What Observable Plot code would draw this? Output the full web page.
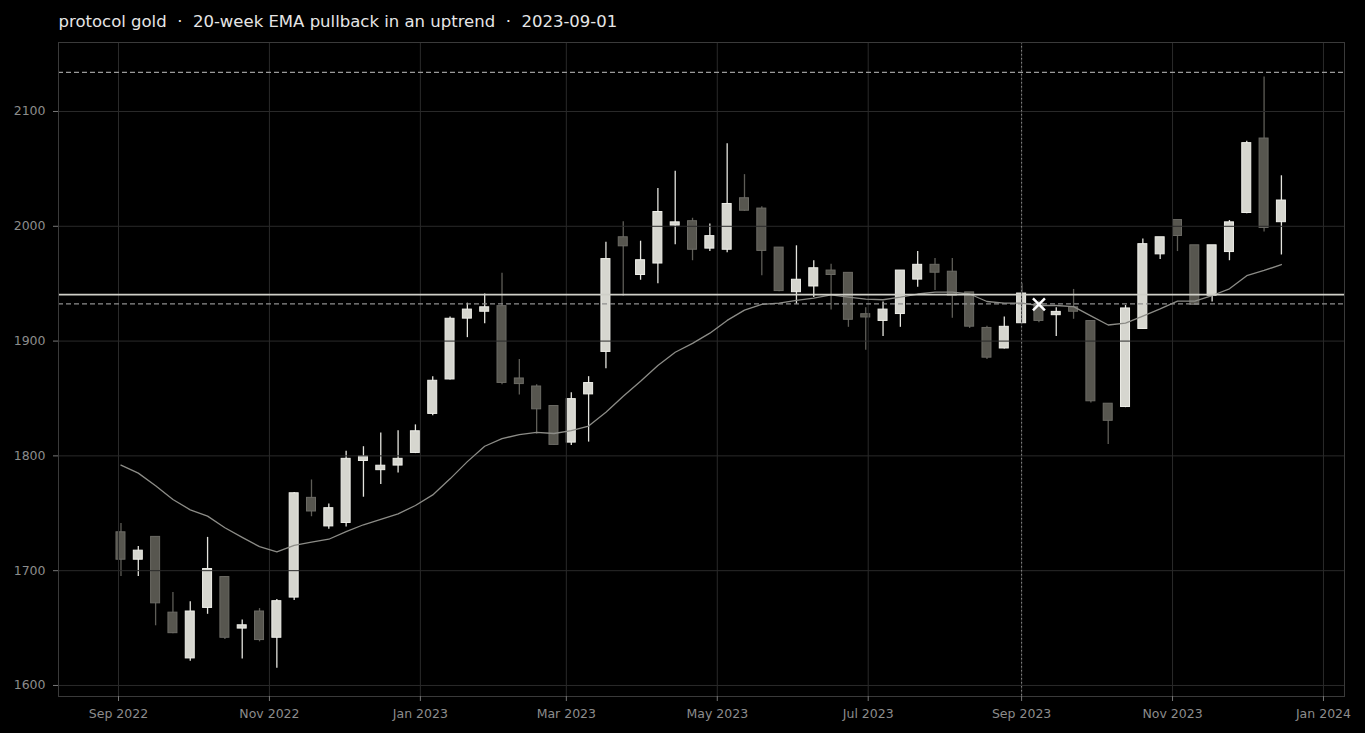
<!DOCTYPE html>
<html>
<head>
<meta charset="utf-8">
<script src="https://cdn.jsdelivr.net/npm/d3@7"></script>
<script src="https://cdn.jsdelivr.net/npm/@observablehq/plot@0.6"></script>
<style>
  html, body { margin: 0; padding: 0; background: #000; }
</style>
</head>
<body>
<div id="chart"></div>
<script>
const title = "protocol gold  \u00b7  20-week EMA pullback in an uptrend  \u00b7  2023-09-01";

const dates = [
  "2022-09-02","2022-09-09","2022-09-16","2022-09-23","2022-09-30","2022-10-07","2022-10-14","2022-10-21","2022-10-28",
  "2022-11-04","2022-11-11","2022-11-18","2022-11-25","2022-12-02","2022-12-09","2022-12-16","2022-12-23","2022-12-30",
  "2023-01-06","2023-01-13","2023-01-20","2023-01-27","2023-02-03","2023-02-10","2023-02-17","2023-02-24",
  "2023-03-03","2023-03-10","2023-03-17","2023-03-24","2023-03-31","2023-04-07","2023-04-14","2023-04-21","2023-04-28",
  "2023-05-05","2023-05-12","2023-05-19","2023-05-26","2023-06-02","2023-06-09","2023-06-16","2023-06-23","2023-06-30",
  "2023-07-07","2023-07-14","2023-07-21","2023-07-28","2023-08-04","2023-08-11","2023-08-18","2023-08-25",
  "2023-09-01","2023-09-08","2023-09-15","2023-09-22","2023-09-29","2023-10-06","2023-10-13","2023-10-20","2023-10-27",
  "2023-11-03","2023-11-10","2023-11-17","2023-11-24","2023-12-01","2023-12-08","2023-12-15"
];
const open = [
  1733,1710,1729,1663,1624,1668,1694,1650,1664,1642,1677,1763,1739,1742,1796,1788,1792,1803,
  1837,1867,1920,1926,1930,1867,1860,1843,1812,1854,1891,1990,1958,1968,2001,2004,1981,
  1980,2024,2015,1981,1943,1948,1961,1959,1923,1918,1924,1954,1966,1960,1942,1911,1894,
  1916,1932,1923,1929,1917,1845,1843,1911,1976,2005,1983,1940,1978,2012,2076,2004
];
const high = [
  1741,1721,1729,1681,1673,1729,1695,1657,1667,1675,1768,1779,1758,1804,1808,1820,1822,1827,
  1869,1921,1933,1941,1959,1884,1862,1843,1855,1869,1986,2004,1987,2033,2048,2007,2002,
  2072,2045,2017,1981,1983,1970,1967,1959,1929,1934,1961,1978,1972,1972,1942,1913,1921,
  1950,1935,1929,1945,1917,1845,1931,1989,1990,2005,1983,1983,2005,2074,2130,2044
];
const low = [
  1695,1695,1652,1645,1621,1662,1640,1623,1638,1615,1674,1747,1736,1738,1764,1775,1785,1802,
  1835,1866,1903,1915,1862,1853,1819,1809,1809,1812,1876,1939,1953,1950,1984,1970,1978,
  1977,2013,1957,1943,1932,1938,1927,1912,1892,1904,1912,1947,1944,1920,1911,1884,1893,
  1915,1916,1904,1919,1846,1810,1842,1910,1971,1978,1932,1934,1970,2011,1995,1975
];
const close = [
  1710,1717,1672,1646,1664,1701,1642,1652,1640,1673,1767,1752,1754,1797,1799,1791,1797,1821,
  1865,1919,1927,1929,1864,1863,1841,1810,1849,1863,1971,1983,1970,2012,2003,1980,1991,
  2019,2014,1979,1944,1953,1963,1958,1919,1921,1927,1961,1966,1960,1940,1913,1886,1912,
  1941,1918,1925,1926,1848,1831,1928,1984,1990,1992,1932,1983,2003,2072,1999,2022
];
const ema = [
  1792,1785,1774,1762,1753,1747.5,1737.4,1729,1721,1716.4,1722,1724.8,1727.4,1734,1740,1744.6,1749.5,1756.8,
  1766,1780,1795,1808.4,1815,1818.6,1820.4,1819.5,1822,1826,1838,1852,1865,1878.7,1890.3,1898,1906.9,
  1918,1927,1932,1933,1935.4,1937.5,1940.3,1938.3,1936.6,1936,1938.3,1941,1942.6,1942.6,1941,1934.5,1933,
  1933,1931,1931,1930,1922,1914,1915.6,1921.7,1928,1934.8,1934.8,1939.7,1945.5,1957,1961.5,1966.7
];

const resistanceLevel = 2134;
const pivotLevel = 1940.5;
const supportLevel = 1932.5;
const eventDate = "2023-09-01";
const signalDate = "2023-09-08";
const signalPrice = 1932;

const yTicks = [1600, 1700, 1800, 1900, 2000, 2100];
const xTickDates = ["2022-09-01","2022-11-01","2023-01-01","2023-03-01","2023-05-01","2023-07-01","2023-09-01","2023-11-01","2024-01-01"];
const xTickLabels = ["Sep 2022","Nov 2022","Jan 2023","Mar 2023","May 2023","Jul 2023","Sep 2023","Nov 2023","Jan 2024"];

const candles = dates.map((d, i) => ({
  date: new Date(d), open: open[i], high: high[i], low: low[i], close: close[i], ema: ema[i]
}));
const xTicks = xTickDates.map(d => new Date(d));
const tickLabel = new Map(xTickDates.map((d, i) => [new Date(d).getTime(), xTickLabels[i]]));

const isUp = d => d.close >= d.open;
const GRID = "#2a2a2a";

const chart = Plot.plot({
  width: 1365,
  height: 733,
  marginLeft: 58,
  marginRight: 21,
  marginTop: 42,
  marginBottom: 37,
  style: { background: "#000", color: "#8c8c8c", fontFamily: "DejaVu Sans, sans-serif", fontSize: "12.5px" },
  x: { type: "utc", domain: [new Date("2022-08-07T18:00Z"), new Date("2024-01-09T12:00Z")], label: null },
  y: { domain: [1590.4, 2160.1], label: null },
  marks: [
    Plot.ruleX(candles, {
      x: "date", y1: "low", y2: "high",
      stroke: d => isUp(d) ? "#e4e4de" : "#5e5d57", strokeWidth: 1.3
    }),
    Plot.rect(candles, {
      x1: "date", x2: "date", y1: "open", y2: "close",
      insetLeft: -4.5, insetRight: -4.5, insetTop: -0.5, insetBottom: -0.5,
      fill: d => isUp(d) ? "#d6d6cf" : "#57564f",
      stroke: d => isUp(d) ? "#efefe9" : "#6c6b65",
      strokeWidth: 1
    }),
    Plot.gridX(xTicks, { stroke: GRID, strokeOpacity: 1 }),
    Plot.gridY(yTicks, { stroke: GRID, strokeOpacity: 1 }),
    Plot.line(candles, { x: "date", y: "ema", stroke: "#8c8c87", strokeWidth: 1.3 }),
    Plot.ruleY([resistanceLevel], { stroke: "#9a9a9a", strokeWidth: 1.2, strokeDasharray: "5,3" }),
    Plot.ruleY([supportLevel], { stroke: "#8e8e8e", strokeWidth: 1.2, strokeDasharray: "5,3" }),
    Plot.ruleY([pivotLevel], { stroke: "#cfcfc8", strokeWidth: 1.8 }),
    Plot.ruleX([new Date(eventDate)], { stroke: "#8a8a8a", strokeWidth: 1, strokeDasharray: "1.5,2.5" }),
    Plot.dot([{ date: new Date(signalDate), price: signalPrice }], {
      x: "date", y: "price", symbol: "times", r: 5.5, stroke: "#ffffff", strokeWidth: 2.5
    }),
    Plot.frame({ stroke: "#3a3a3a" }),
    Plot.axisX(xTicks, {
      tickFormat: d => tickLabel.get(d.getTime()), tickSize: 5, tickPadding: 8, stroke: "#777"
    }),
    Plot.axisY(yTicks, { tickFormat: d => String(d), tickSize: 5, tickPadding: 8, stroke: "#777" }),
    Plot.text([title], {
      frameAnchor: "top-left", dy: -21, text: d => d, textAnchor: "start", lineAnchor: "middle",
      fill: "#e6e6e6", fontSize: 16.5
    })
  ]
});
document.getElementById("chart").appendChild(chart);
</script>
</body>
</html>
